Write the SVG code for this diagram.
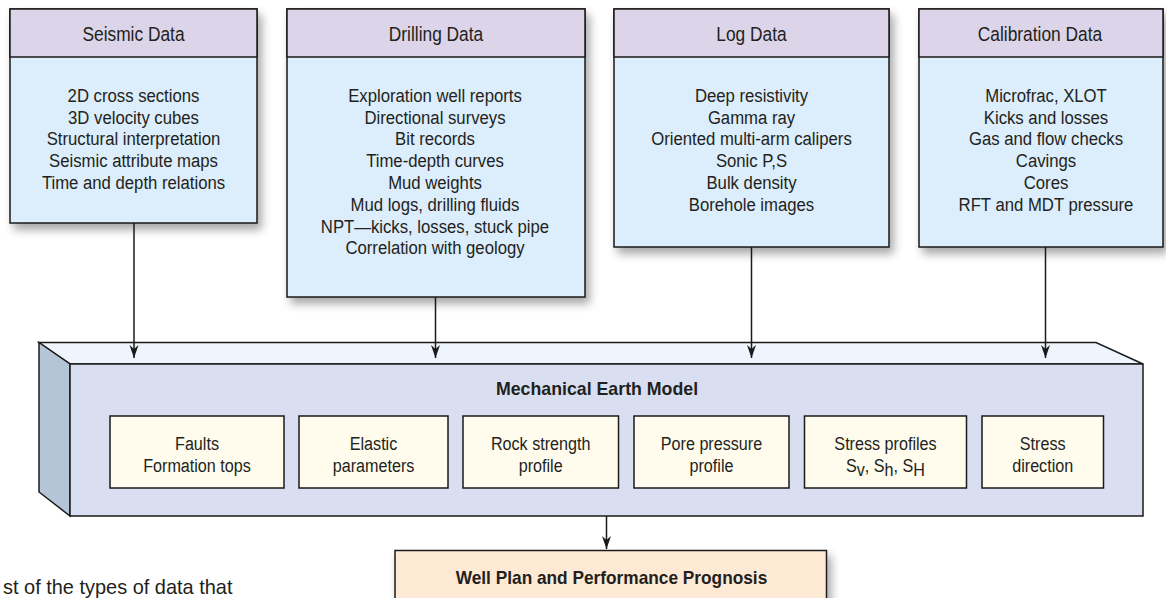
<svg xmlns="http://www.w3.org/2000/svg" width="1166" height="598" viewBox="0 0 1166 598">
<defs>
<filter id="shadow" x="-10%" y="-10%" width="130%" height="130%">
<feGaussianBlur in="SourceAlpha" stdDeviation="5"/>
<feOffset dx="4" dy="6" result="b"/>
<feComponentTransfer><feFuncA type="linear" slope="0.35"/></feComponentTransfer>
<feMerge><feMergeNode/><feMergeNode in="SourceGraphic"/></feMerge>
</filter>
<marker id="arrow" viewBox="-14 -6 15 12" refX="0" refY="0" markerWidth="15" markerHeight="12" markerUnits="userSpaceOnUse" orient="auto">
<path d="M0,0 L-13,-4.5 L-9,0 L-13,4.5 Z" fill="#1a1a1a"/>
</marker>
<style>
.box{stroke:#1a1a1a;stroke-width:1.5}
.hdr{fill:#dcd4e8}
.body{fill:#dcedfb}
.inner{fill:#fffcee;stroke:#1a1a1a;stroke-width:1.5}
text{font-family:"Liberation Sans",Arial,sans-serif;fill:#231f20;text-anchor:middle}
.t{font-size:19px}
.h{font-size:19.5px}
.b{font-size:18.5px;font-weight:bold}
.conn{stroke:#1a1a1a;stroke-width:1.5;fill:none;marker-end:url(#arrow)}
</style>
</defs>
<rect width="1166" height="598" fill="#ffffff"/>

<g id="seismic">
<g filter="url(#shadow)">
<rect class="box body" x="10" y="9" width="247" height="214"/>
</g>
<rect class="box hdr" x="10" y="9" width="247" height="48"/>
<text class="h" transform="translate(133.5 41) scale(0.89 1)">Seismic Data</text>
<text class="t" transform="translate(133.5 101.7) scale(0.88 1)">2D cross sections</text>
<text class="t" transform="translate(133.5 123.5) scale(0.88 1)">3D velocity cubes</text>
<text class="t" transform="translate(133.5 145.3) scale(0.88 1)">Structural interpretation</text>
<text class="t" transform="translate(133.5 167.1) scale(0.88 1)">Seismic attribute maps</text>
<text class="t" transform="translate(133.5 188.9) scale(0.88 1)">Time and depth relations</text>
</g>

<g id="drilling">
<g filter="url(#shadow)">
<rect class="box body" x="287" y="9" width="298" height="288"/>
</g>
<rect class="box hdr" x="287" y="9" width="298" height="48"/>
<text class="h" transform="translate(436 41) scale(0.89 1)">Drilling Data</text>
<text class="t" transform="translate(435 101.7) scale(0.88 1)">Exploration well reports</text>
<text class="t" transform="translate(435 123.5) scale(0.88 1)">Directional surveys</text>
<text class="t" transform="translate(435 145.3) scale(0.88 1)">Bit records</text>
<text class="t" transform="translate(435 167.1) scale(0.88 1)">Time-depth curves</text>
<text class="t" transform="translate(435 188.9) scale(0.88 1)">Mud weights</text>
<text class="t" transform="translate(435 210.7) scale(0.88 1)">Mud logs, drilling fluids</text>
<text class="t" transform="translate(435 232.5) scale(0.88 1)">NPT—kicks, losses, stuck pipe</text>
<text class="t" transform="translate(435 254.3) scale(0.88 1)">Correlation with geology</text>
</g>

<g id="log">
<g filter="url(#shadow)">
<rect class="box body" x="614" y="9" width="275" height="238"/>
</g>
<rect class="box hdr" x="614" y="9" width="275" height="48"/>
<text class="h" transform="translate(751.5 41) scale(0.89 1)">Log Data</text>
<text class="t" transform="translate(751.5 101.7) scale(0.88 1)">Deep resistivity</text>
<text class="t" transform="translate(751.5 123.5) scale(0.88 1)">Gamma ray</text>
<text class="t" transform="translate(751.5 145.3) scale(0.88 1)">Oriented multi-arm calipers</text>
<text class="t" transform="translate(751.5 167.1) scale(0.88 1)">Sonic P,S</text>
<text class="t" transform="translate(751.5 188.9) scale(0.88 1)">Bulk density</text>
<text class="t" transform="translate(751.5 210.7) scale(0.88 1)">Borehole images</text>
</g>

<g id="calibration">
<g filter="url(#shadow)">
<rect class="box body" x="919" y="9" width="244" height="238"/>
</g>
<rect class="box hdr" x="919" y="9" width="244" height="48"/>
<text class="h" transform="translate(1040 41) scale(0.89 1)">Calibration Data</text>
<text class="t" transform="translate(1046 101.7) scale(0.88 1)">Microfrac, XLOT</text>
<text class="t" transform="translate(1046 123.5) scale(0.88 1)">Kicks and losses</text>
<text class="t" transform="translate(1046 145.3) scale(0.88 1)">Gas and flow checks</text>
<text class="t" transform="translate(1046 167.1) scale(0.88 1)">Cavings</text>
<text class="t" transform="translate(1046 188.9) scale(0.88 1)">Cores</text>
<text class="t" transform="translate(1046 210.7) scale(0.88 1)">RFT and MDT pressure</text>
</g>

<g id="mem">
<polygon class="box" fill="#eef5fc" points="39,342.5 1096,342.5 1143,364 70,364"/>
<polygon class="box" fill="#b5c5d8" points="39,342.5 70,364 70,516 39,492"/>
<rect class="box" fill="#d9dff0" x="70" y="364" width="1073" height="152"/>
<text class="b" transform="translate(597 395) scale(0.96 1)">Mechanical Earth Model</text>
</g>

<g id="faults">
<rect class="inner" x="110" y="416" width="174" height="72"/>
<text class="t" transform="translate(197 450) scale(0.85 1)">Faults</text>
<text class="t" transform="translate(197 471.7) scale(0.85 1)">Formation tops</text>
</g>
<g id="elastic">
<rect class="inner" x="299" y="416" width="149" height="72"/>
<text class="t" transform="translate(373.5 450) scale(0.85 1)">Elastic</text>
<text class="t" transform="translate(373.5 471.7) scale(0.85 1)">parameters</text>
</g>
<g id="rock">
<rect class="inner" x="463" y="416" width="155.5" height="72"/>
<text class="t" transform="translate(540.7 450) scale(0.85 1)">Rock strength</text>
<text class="t" transform="translate(540.7 471.7) scale(0.85 1)">profile</text>
</g>
<g id="pore">
<rect class="inner" x="634" y="416" width="155" height="72"/>
<text class="t" transform="translate(711.5 450) scale(0.85 1)">Pore pressure</text>
<text class="t" transform="translate(711.5 471.7) scale(0.85 1)">profile</text>
</g>
<g id="stress-profiles">
<rect class="inner" x="804.5" y="416" width="162" height="72"/>
<text class="t" transform="translate(885.5 450) scale(0.85 1)">Stress profiles</text>
<text class="t" transform="translate(885.5 471.7) scale(0.85 1)">S<tspan dy="4">v</tspan><tspan dy="-4">, S</tspan><tspan dy="4">h</tspan><tspan dy="-4">, S</tspan><tspan dy="4">H</tspan></text>
</g>
<g id="stress-direction">
<rect class="inner" x="982" y="416" width="121.5" height="72"/>
<text class="t" transform="translate(1042.7 450) scale(0.85 1)">Stress</text>
<text class="t" transform="translate(1042.7 471.7) scale(0.85 1)">direction</text>
</g>

<g id="wellplan">
<g filter="url(#shadow)">
<rect class="box" fill="#fde9d4" x="395" y="550.5" width="431.5" height="70"/>
</g>
<text class="b" transform="translate(611.5 584) scale(0.9 1)" style="font-size:19.2px">Well Plan and Performance Prognosis</text>
</g>

<g id="connectors">
<line class="conn" x1="134" y1="223" x2="134" y2="358"/>
<line class="conn" x1="435.5" y1="297" x2="435.5" y2="358"/>
<line class="conn" x1="751.5" y1="247" x2="751.5" y2="358"/>
<line class="conn" x1="1045.5" y1="247" x2="1045.5" y2="358"/>
<line class="conn" x1="606.5" y1="516" x2="606.5" y2="549"/>
</g>

<text transform="translate(3 593.5) scale(0.95 1)" style="font-size:21px;text-anchor:start">st of the types of data that</text>
</svg>
